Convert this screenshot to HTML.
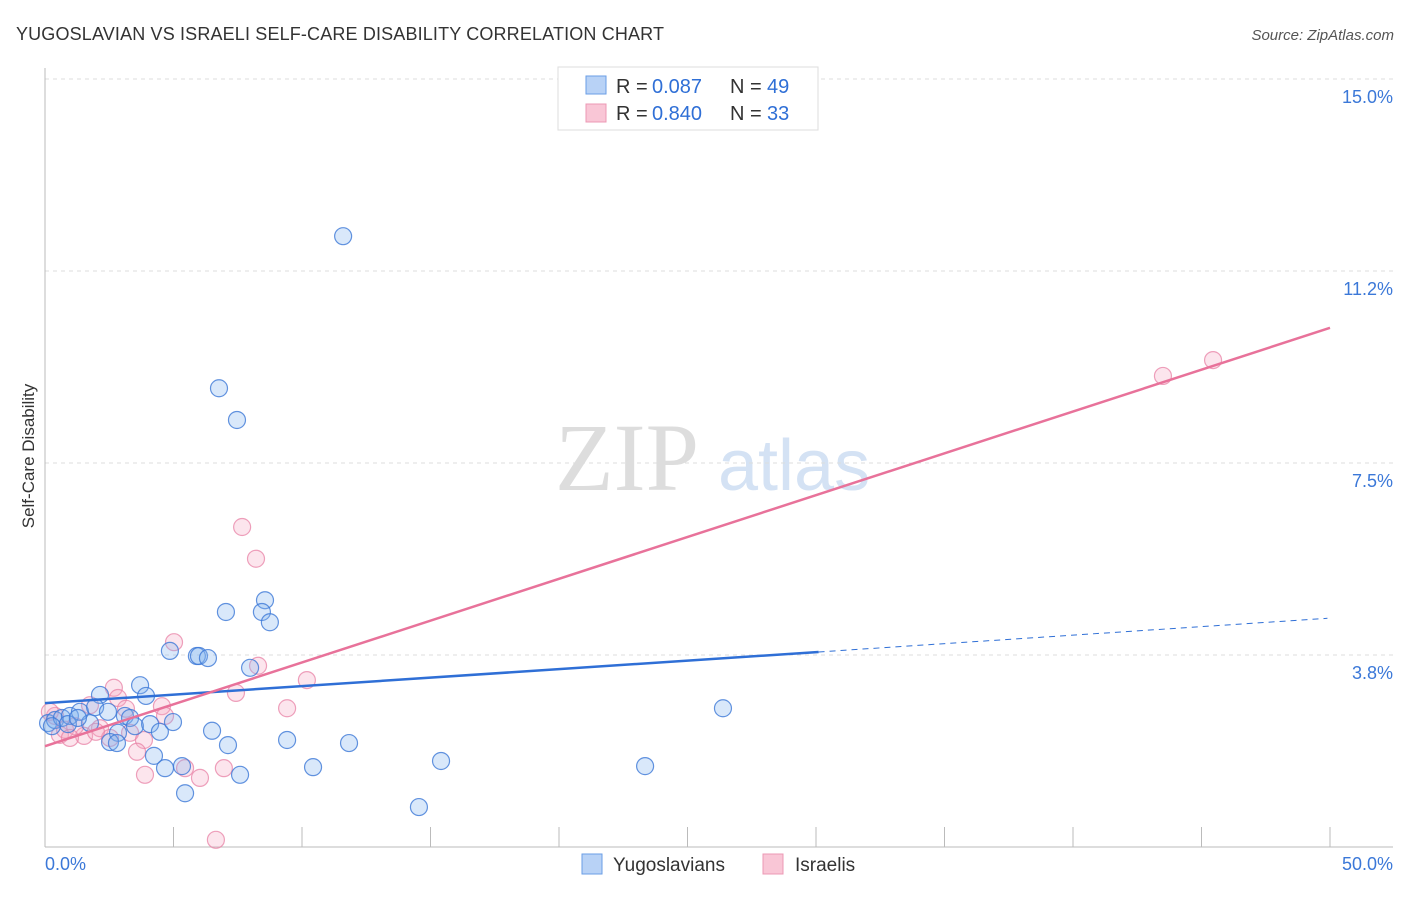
<!DOCTYPE html>
<html><head><meta charset="utf-8"><style>
body{margin:0;background:#fff;font-family:"Liberation Sans",sans-serif;}
</style></head><body>
<svg id="chart" width="1406" height="892" xmlns="http://www.w3.org/2000/svg" font-family="Liberation Sans, sans-serif">
<text x="16" y="40" font-size="18" fill="#333" textLength="648">YUGOSLAVIAN VS ISRAELI SELF-CARE DISABILITY CORRELATION CHART</text>
<text x="1394" y="40" font-size="15" fill="#555" font-style="italic" text-anchor="end">Source: ZipAtlas.com</text>
<text x="34" y="456" font-size="17" fill="#333" text-anchor="middle" transform="rotate(-90 34 456)">Self-Care Disability</text>
<g><text x="555" y="490" font-size="96" fill="#ddd" font-family="Liberation Serif, serif">ZIP</text><text x="718" y="490" font-size="72" fill="#d4e2f4">atlas</text></g>
<g id="grid"></g><g id="axes"></g><g id="marks"></g><g id="lines"></g>
<g>
<rect x="558" y="67" width="260" height="63" fill="#fff" stroke="#ddd"/>
<rect x="586" y="76" width="20" height="18" fill="#b8d2f6" stroke="#6a9ee6"/>
<text x="616" y="93" font-size="20" fill="#333">R =</text><text x="652" y="93" font-size="20" fill="#2f6fd6">0.087</text>
<text x="730" y="93" font-size="20" fill="#333">N =</text><text x="767" y="93" font-size="20" fill="#2f6fd6">49</text>
<rect x="586" y="104" width="20" height="18" fill="#f9c6d6" stroke="#ec98b4"/>
<text x="616" y="120" font-size="20" fill="#333">R =</text><text x="652" y="120" font-size="20" fill="#2f6fd6">0.840</text>
<text x="730" y="120" font-size="20" fill="#333">N =</text><text x="767" y="120" font-size="20" fill="#2f6fd6">33</text>
</g>
<g>
<rect x="582" y="854" width="20" height="20" fill="#b8d2f6" stroke="#6a9ee6"/>
<text x="613" y="871" font-size="19" fill="#333">Yugoslavians</text>
<rect x="763" y="854" width="20" height="20" fill="#f9c6d6" stroke="#ec98b4"/>
<text x="795" y="871" font-size="19" fill="#333">Israelis</text>
</g>
</svg>
<script>
const blueX=[11.6,6.77,7.47,7.04,8.56,8.44,8.75,4.86,5.91,5.99,6.34,7.98,3.70,2.14,3.93,0.12,0.39,0.66,0.97,1.36,1.95,2.45,3.11,3.31,3.50,4.09,4.47,4.98,6.50,2.84,2.53,2.80,4.24,4.67,5.33,5.45,7.12,7.59,9.42,10.43,11.83,14.55,15.41,23.35,26.38,1.75,0.89,0.27,1.28];
const blueY=[11.93,8.96,8.34,4.59,4.82,4.59,4.39,3.83,3.73,3.73,3.69,3.50,3.16,2.97,2.95,2.42,2.48,2.52,2.56,2.64,2.73,2.64,2.56,2.52,2.36,2.40,2.25,2.44,2.27,2.23,2.05,2.03,1.78,1.54,1.58,1.05,1.99,1.41,2.09,1.56,2.03,0.78,1.68,1.58,2.71,2.42,2.40,2.36,2.52];
const pinkX=[45.45,43.5,7.67,8.21,5.02,8.29,10.19,7.43,2.68,2.84,4.55,4.67,9.42,3.15,1.75,0.39,0.58,0.78,2.14,1.52,3.31,3.85,3.58,3.89,5.45,6.03,6.96,6.65,2.53,0.19,1.17,1.98,0.97];
const pinkY=[9.51,9.20,6.25,5.63,4.00,3.54,3.26,3.01,3.11,2.91,2.75,2.56,2.71,2.70,2.77,2.56,2.19,2.29,2.32,2.17,2.23,2.09,1.86,1.41,1.54,1.35,1.54,0.14,2.13,2.64,2.36,2.25,2.13];
const blueTrend=[2.81,0.0332];
const pinkTrend=[1.97,0.1634];
const yTicks=[3.8,7.5,11.2,15.0];
const yTickLabels=["3.8%","7.5%","11.2%","15.0%"];
const xTicks=[0,5,10,15,20,25,30,35,40,45,50];
const NS="http://www.w3.org/2000/svg";
const X=v=>45+v*25.7, Y=v=>847-v*51.2;
function mk(tag,attrs,parent){const e=document.createElementNS(NS,tag);for(const k in attrs)e.setAttribute(k,attrs[k]);document.getElementById(parent).appendChild(e);return e;}
yTicks.forEach((t,i)=>{const yy=847-(i+1)*192;
 const l=mk('line',{x1:45,x2:1393,y1:yy,y2:yy,stroke:'#ddd','stroke-dasharray':'4,4'},'grid');
 
 
 const t2=mk('text',{x:1393,y:yy+24,'font-size':18,fill:'#3b78d8','text-anchor':'end'},'grid');t2.textContent=yTickLabels[i];
 
 
});
let a=mk('line',{x1:45,x2:45,y1:68,y2:847,stroke:'#bbb'},'axes');


a=mk('line',{x1:45,x2:1393,y1:847,y2:847,stroke:'#bbb'},'axes');


xTicks.forEach(t=>{const l=mk('line',{x1:X(t),x2:X(t),y1:827,y2:847,stroke:'#bbb'},'axes');
 
 });
let tl=mk('text',{x:45,y:870,'font-size':18,fill:'#3b78d8'},'axes');tl.textContent='0.0%';


tl=mk('text',{x:1393,y:870,'font-size':18,fill:'#3b78d8','text-anchor':'end'},'axes');tl.textContent='50.0%';


pinkX.forEach((x,i)=>{const c=mk('circle',{cx:X(x),cy:Y(pinkY[i]),r:8.5,fill:'rgba(244,170,196,0.3)',stroke:'rgba(232,130,165,0.75)','stroke-width':1.2},'marks');
 
 });
blueX.forEach((x,i)=>{const c=mk('circle',{cx:X(x),cy:Y(blueY[i]),r:8.5,fill:'rgba(130,178,238,0.3)',stroke:'rgba(60,120,215,0.8)','stroke-width':1.2},'marks');
 
 });
let ln=mk('line',{x1:X(0),y1:Y(blueTrend[0]),x2:X(30.1),y2:Y(blueTrend[0]+blueTrend[1]*30.1),stroke:'#2f6fd6','stroke-width':2.5},'lines');


ln=mk('line',{x1:X(30.1),y1:Y(blueTrend[0]+blueTrend[1]*30.1),x2:X(49.9),y2:Y(blueTrend[0]+blueTrend[1]*49.9),stroke:'#2f6fd6','stroke-width':1,'stroke-dasharray':'6,5'},'lines');


ln=mk('line',{x1:X(0),y1:Y(pinkTrend[0]),x2:X(50),y2:Y(pinkTrend[0]+pinkTrend[1]*50),stroke:'#e8729a','stroke-width':2.5},'lines');


</script>
</body></html>
